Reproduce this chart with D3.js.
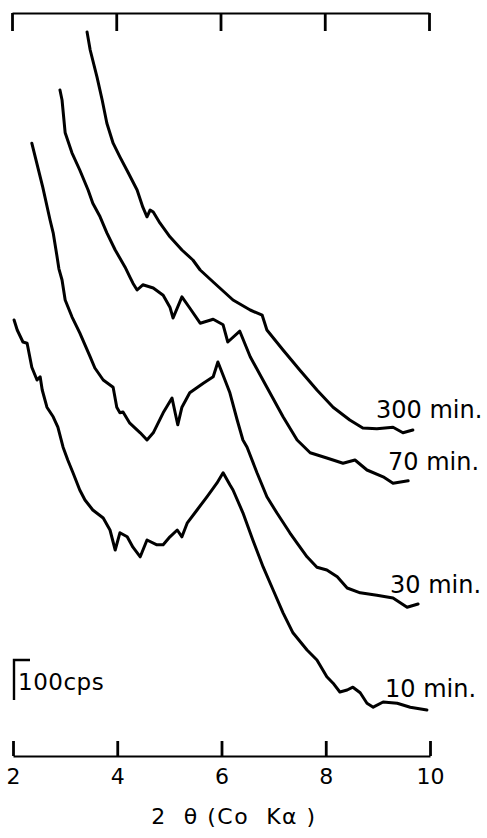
<!DOCTYPE html>
<html lang="en">
<head>
<meta charset="utf-8">
<title>XRD patterns, 2θ (Co Kα)</title>
<script src="https://d3js.org/d3.v7.min.js"></script>
<style>
  body { margin: 0; background: #fff; }
  text { font-family: "DejaVu Sans", sans-serif; fill: #000; white-space: pre; }
</style>
</head>
<body>
<script>
// data: 2 theta (deg) and intensity (cps, traces stacked with offsets)
const theta300 = [3.44,3.50,3.63,3.73,3.82,3.94,4.07,4.23,4.40,4.51,4.59,4.65,4.71,4.84,5.03,5.26,5.47,5.61,5.86,6.24,6.57,6.80,6.89,7.20,7.52,7.85,8.16,8.48,8.73,9.00,9.31,9.50,9.69];
const cps300   = [1820,1775,1708,1650,1592,1542,1508,1468,1425,1382,1358,1375,1370,1342,1308,1275,1250,1225,1195,1150,1125,1112,1075,1025,975,925,882,850,830,828,832,818,825];

const theta70 = [2.92,2.96,3.02,3.15,3.30,3.46,3.55,3.69,3.82,3.98,4.17,4.26,4.32,4.40,4.51,4.71,4.90,5.03,5.09,5.26,5.41,5.61,5.86,6.05,6.14,6.37,6.57,6.89,7.20,7.47,7.72,8.04,8.35,8.58,8.81,9.12,9.31,9.60];
const cps70   = [1675,1650,1568,1518,1475,1425,1392,1358,1318,1275,1232,1208,1192,1175,1188,1180,1162,1132,1105,1158,1130,1092,1102,1088,1045,1072,1008,932,858,800,768,755,742,750,725,708,692,698];

const theta30 = [2.38,2.59,2.73,2.79,2.86,2.90,2.96,3.02,3.15,3.30,3.50,3.59,3.75,3.94,4.01,4.07,4.13,4.26,4.46,4.59,4.71,4.90,5.07,5.13,5.18,5.26,5.41,5.67,5.86,5.95,6.05,6.18,6.32,6.43,6.51,6.70,6.89,7.08,7.33,7.47,7.66,7.85,8.04,8.24,8.43,8.68,9.00,9.31,9.58,9.79];
const cps30   = [1542,1432,1350,1318,1262,1228,1200,1150,1108,1068,1008,980,950,932,882,868,870,842,818,800,818,868,905,868,838,882,918,942,958,995,962,918,850,800,782,718,658,618,568,542,508,482,475,458,430,418,412,405,382,390];

const theta10 = [2.04,2.10,2.21,2.29,2.38,2.48,2.54,2.58,2.67,2.79,2.88,2.98,3.07,3.17,3.30,3.40,3.55,3.75,3.88,3.98,4.07,4.21,4.32,4.46,4.59,4.78,4.90,5.03,5.17,5.26,5.36,5.55,5.74,5.93,6.05,6.18,6.24,6.43,6.62,6.82,7.01,7.20,7.39,7.66,7.85,8.04,8.16,8.29,8.43,8.54,8.68,8.81,8.93,9.12,9.39,9.64,9.96];
const cps10   = [1100,1075,1045,1042,982,950,958,925,882,858,832,782,750,718,675,650,625,605,575,525,568,558,532,508,550,538,538,558,575,558,592,625,658,692,718,688,675,618,550,482,425,368,318,275,250,208,192,170,175,182,168,142,132,145,142,132,125];

const seriesNames = ["300 min.", "70 min.", "30 min.", "10 min."];
const tickValues = [2, 4, 6, 8, 10];
const scaleBarCps = 100;

const width = 487, height = 838;

const svg = d3.select("body").append("svg")
    .attr("width", width)
    .attr("height", height);

svg.append("rect").attr("width", width).attr("height", height).attr("fill", "#fff");

// scales
const xScale = d3.scaleLinear().domain([2, 10]).range([12, 429]);
const yScale = d3.scaleLinear().domain([0, 1900]).range([760, 0]);

// top axis (ticks only)
const topAxis = d3.axisTop(xScale)
    .tickValues(tickValues)
    .tickSize(-18)
    .tickSizeOuter(0)
    .tickFormat("");
const gTop = svg.append("g")
    .attr("transform", "translate(0,13)")
    .call(topAxis);

// bottom axis (ticks point up)
const bottomAxis = d3.axisBottom(xScale)
    .tickValues(tickValues)
    .tickSize(-15)
    .tickSizeOuter(0)
    .tickPadding(12)
    .tickFormat(d3.format("d"));
const gBottom = svg.append("g")
    .attr("transform", "translate(1,756)")
    .call(bottomAxis);

[gTop, gBottom].forEach(g => {
    g.select(".domain").attr("stroke", "#000").attr("stroke-width", 2);
    g.selectAll(".tick line").attr("stroke", "#000").attr("stroke-width", 2.8);
});
gBottom.selectAll(".tick text")
    .attr("font-size", 22)
    .attr("font-family", "DejaVu Sans, sans-serif");

// traces
const traces = [
    {name: seriesNames[0], x: theta300, y: cps300},
    {name: seriesNames[1], x: theta70, y: cps70},
    {name: seriesNames[2], x: theta30, y: cps30},
    {name: seriesNames[3], x: theta10, y: cps10}
];

const line = d3.line()
    .x(d => xScale(d[0]))
    .y(d => yScale(d[1]));

svg.selectAll("path.trace")
    .data(traces)
    .enter()
    .append("path")
    .attr("class", "trace")
    .attr("d", d => line(d.x.map((v, i) => [v, d.y[i]])))
    .attr("fill", "none")
    .attr("stroke", "#000")
    .attr("stroke-width", 3)
    .attr("stroke-linejoin", "round")
    .attr("stroke-linecap", "round");

// labels next to trace ends
const labelPos = [[376, 418], [388, 470], [390, 593], [385, 697]];
svg.selectAll("text.label")
    .data(traces)
    .enter()
    .append("text")
    .attr("class", "label")
    .attr("x", (d, i) => labelPos[i][0])
    .attr("y", (d, i) => labelPos[i][1])
    .attr("font-size", 24)
    .text(d => d.name);

// 100 cps scale bar
const barTop = yScale(250), barBottom = yScale(250 - scaleBarCps);
svg.append("path")
    .attr("d", `M30,${barTop}H14V${barBottom}`)
    .attr("fill", "none")
    .attr("stroke", "#000")
    .attr("stroke-width", 2.4);
svg.append("text")
    .attr("x", 18)
    .attr("y", 690)
    .attr("font-size", 23)
    .attr("letter-spacing", 0.5)
    .text("100cps");

// axis title
svg.append("text")
    .attr("x", 234)
    .attr("y", 824)
    .attr("text-anchor", "middle")
    .attr("font-size", 22)
    .attr("letter-spacing", 1.5)
    .text("2  θ (Co  Kα )");
</script>
</body>
</html>
